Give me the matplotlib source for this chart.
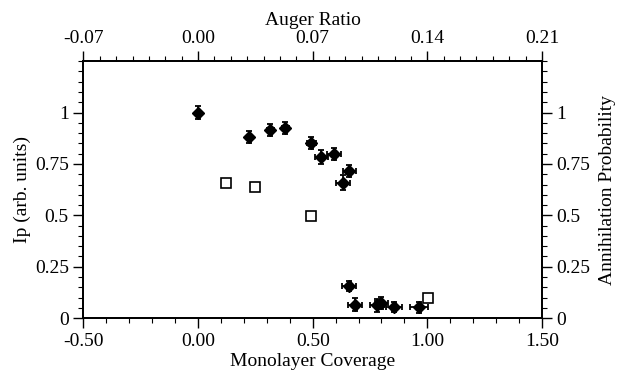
import matplotlib
matplotlib.use("Agg")
import matplotlib.pyplot as plt
from matplotlib.ticker import MultipleLocator

plt.rcParams['font.family'] = ['Liberation Serif', 'DejaVu Serif']
plt.rcParams['axes.unicode_minus'] = False
plt.rcParams['font.size'] = 14

# Ip data (filled symbols) vs monolayer coverage
cov_ip = [0.00, 0.224, 0.315, 0.381, 0.494, 0.538, 0.593, 0.631, 0.660,
          0.659, 0.686, 0.780, 0.800, 0.855, 0.963]
ip = [1.00, 0.882, 0.915, 0.926, 0.852, 0.785, 0.798, 0.659, 0.717,
      0.158, 0.066, 0.062, 0.075, 0.055, 0.052]
cov_err = [0.01, 0.01, 0.015, 0.015, 0.02, 0.03, 0.03, 0.03, 0.03,
           0.03, 0.03, 0.03, 0.03, 0.035, 0.04]
ip_err = [0.03, 0.03, 0.03, 0.03, 0.03, 0.035, 0.03, 0.035, 0.03,
          0.025, 0.03, 0.03, 0.03, 0.025, 0.025]

# annihilation probability (open squares)
cov_ann = [0.124, 0.247, 0.491, 1.002]
ann = [0.659, 0.637, 0.497, 0.098]

xticks = [-0.50, 0.00, 0.50, 1.00, 1.50]
top_ticks = [-0.07, 0.00, 0.07, 0.14, 0.21]
yticks = [0, 0.25, 0.5, 0.75, 1]
ylabels = ['0', '0.25', '0.5', '0.75', '1']

fig = plt.figure(figsize=(6.18, 3.73), dpi=100)
ax = fig.add_axes([0.135, 0.147, 0.742, 0.689])

ax.errorbar(cov_ip, ip, xerr=cov_err, yerr=ip_err, fmt='D', color='black',
            markersize=6, capsize=2.5, elinewidth=1.3, capthick=1.3)
ax.plot(cov_ann, ann, 's', markersize=7.5, markerfacecolor='white',
        markeredgecolor='black', markeredgewidth=1.2)

ax.set_xlim(-0.5, 1.5)
ax.set_ylim(0, 1.25)
ax.set_xticks(xticks)
ax.set_xticklabels(['%.2f' % v for v in xticks])
ax.xaxis.set_minor_locator(MultipleLocator(0.1))
ax.set_yticks(yticks)
ax.set_yticklabels(ylabels)
ax.yaxis.set_minor_locator(MultipleLocator(0.05))
ax.set_xlabel('Monolayer Coverage', labelpad=2)
ax.set_ylabel('Ip (arb. units)', labelpad=3)

top = ax.twiny()
top.set_xlim(-0.07, 0.21)
top.set_xticks(top_ticks)
top.set_xticklabels(['%.2f' % v for v in top_ticks])
top.xaxis.set_minor_locator(MultipleLocator(0.01))
top.set_xlabel('Auger Ratio', labelpad=3)

right = ax.twinx()
right.set_ylim(0, 1.25)
right.set_yticks(yticks)
right.set_yticklabels(ylabels)
right.yaxis.set_minor_locator(MultipleLocator(0.05))
right.set_ylabel('Annihilation Probability', labelpad=6)

for a in (ax, top, right):
    a.tick_params(which='major', direction='out', length=7, width=1)
    a.tick_params(which='minor', direction='out', length=3.5, width=0.8)
    for s in a.spines.values():
        s.set_linewidth(1.1)
ax.tick_params(top=False, right=False, which='both')

fig.savefig('out.png', dpi=100)
